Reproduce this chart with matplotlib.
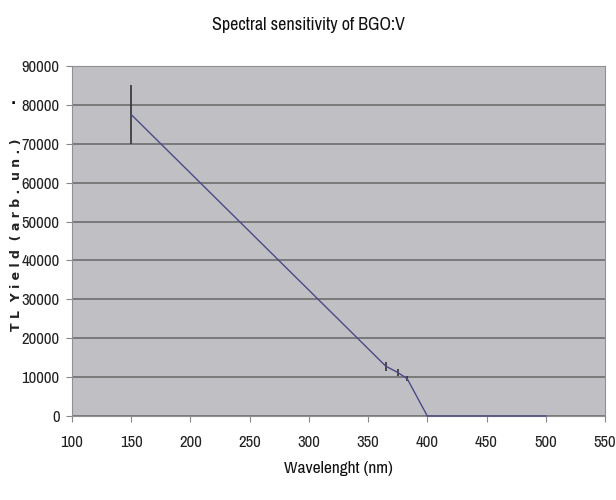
import matplotlib.pyplot as plt
from matplotlib import font_manager

names = {f.name for f in font_manager.fontManager.ttflist}
narrow = 'Archivo Narrow' if 'Archivo Narrow' in names else 'DejaVu Sans'

wavelength = [150, 365, 375, 383, 400, 450, 500]
tl_yield = [77500, 12800, 11200, 9600, 0, 0, 0]
yerr = [7600, 1200, 800, 700, 0, 0, 0]

xticks = list(range(100, 551, 50))
yticks = list(range(0, 90001, 10000))

fig = plt.figure(figsize=(6.16, 5), dpi=100)
ax = fig.add_axes([0.117, 0.168, 0.865, 0.700])
ax.set_facecolor('#c0c0c4')

ax.plot(wavelength, tl_yield, color='#4a4a88', lw=1.0, zorder=5, clip_on=False)
ax.errorbar(wavelength[:4], tl_yield[:4], yerr=yerr[:4], fmt='none',
            ecolor='#333333', elinewidth=1.2, capsize=0, zorder=4)

ax.set_xlim(100, 550)
ax.set_ylim(0, 90000)
ax.set_xticks(xticks)
ax.set_yticks(yticks)
ax.set_xticklabels([str(t) for t in xticks], family=narrow, fontsize=12, color='#222222')
ax.set_yticklabels([str(t) for t in yticks], family=narrow, fontsize=12, color='#222222')
ax.yaxis.grid(True, color='#6e6e6e', lw=1.2)
ax.set_axisbelow(True)
ax.tick_params(axis='both', length=4, color='#888888', pad=5)
ax.tick_params(axis='x', pad=10)

for s in ax.spines.values():
    s.set_color('#909090')

fig.text(0.5, 0.95, 'Spectral sensitivity of BGO:V', ha='center', va='center',
         family=narrow, fontsize=13, color='#111111')
fig.text(0.549, 0.062, 'Wavelenght (nm)', ha='center', va='center',
         family=narrow, fontsize=12.5, color='#111111')
fig.text(0.026, 0.53, 'T L  Y i e l d  ( a r b .  u n . )', rotation=90,
         ha='center', va='center', fontsize=9, fontweight='bold', color='#222222')
fig.text(0.022, 0.80, '.', ha='center', va='center', fontsize=10, fontweight='bold')

fig.savefig('out.png', dpi=100)
